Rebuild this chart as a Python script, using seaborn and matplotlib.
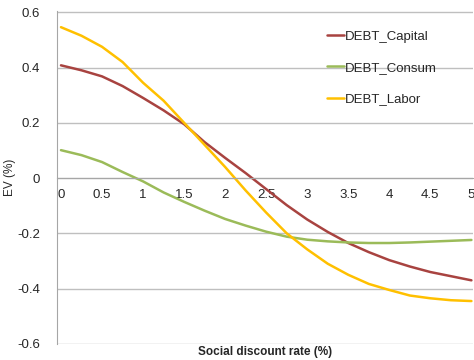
import numpy as np
import pandas as pd
import matplotlib
matplotlib.use('Agg')
import matplotlib.pyplot as plt
import seaborn as sns
from matplotlib.ticker import MultipleLocator

rate = [0, 0.25, 0.5, 0.75, 1.0, 1.25, 1.5, 1.75, 2.0, 2.25, 2.5,
        2.75, 3.0, 3.25, 3.5, 3.75, 4.0, 4.25, 4.5, 4.75, 5.0]

capital = [0.408, 0.390, 0.368, 0.333, 0.290, 0.245, 0.195, 0.130, 0.073, 0.018, -0.040,
           -0.098, -0.150, -0.195, -0.235, -0.268, -0.297, -0.320, -0.340, -0.355, -0.370]
consum = [0.101, 0.083, 0.058, 0.022, -0.012, -0.052, -0.086, -0.118, -0.148, -0.172, -0.194,
          -0.212, -0.223, -0.229, -0.233, -0.235, -0.235, -0.233, -0.230, -0.227, -0.224]
labor = [0.546, 0.515, 0.475, 0.420, 0.345, 0.280, 0.200, 0.120, 0.040, -0.045, -0.125,
         -0.200, -0.258, -0.310, -0.350, -0.383, -0.405, -0.425, -0.435, -0.442, -0.445]

series_names = ['DEBT_Capital', 'DEBT_Consum', 'DEBT_Labor']
colors = {'DEBT_Capital': '#A84340', 'DEBT_Consum': '#9BBB59', 'DEBT_Labor': '#FFC000'}

df = pd.DataFrame({
    'rate': rate * 3,
    'ev': capital + consum + labor,
    'series': np.repeat(series_names, len(rate)),
})

sns.set_style('white')
plt.rcParams['font.family'] = ['Liberation Sans', 'DejaVu Sans']

fig = plt.figure(figsize=(4.74, 3.6), dpi=100)
ax = fig.add_axes([0.120, 0.044, 0.878, 0.925])

sns.lineplot(data=df, x='rate', y='ev', hue='series', palette=colors,
             hue_order=series_names, linewidth=1.8, ax=ax, sort=False)

ax.set_xlim(-0.05, 5.02)
ax.set_ylim(-0.601, 0.604)
ax.xaxis.set_minor_locator(MultipleLocator(0.1))
ax.set_yticks([-0.6, -0.4, -0.2, 0, 0.2, 0.4, 0.6])
ax.set_yticklabels(['-0.6', '-0.4', '-0.2', '0', '0.2', '0.4', '0.6'])
ax.set_xticks([0, 0.5, 1, 1.5, 2, 2.5, 3, 3.5, 4, 4.5, 5])
ax.set_xticklabels(['0', '0.5', '1', '1.5', '2', '2.5', '3', '3.5', '4', '4.5', '5'])

ax.grid(axis='y', color='#BFBFBF', linewidth=1.0)
ax.set_axisbelow(True)

for s in ['top', 'right']:
    ax.spines[s].set_visible(False)
ax.spines['left'].set_color('#A6A6A6')
ax.spines['bottom'].set_color('#A6A6A6')
ax.spines['bottom'].set_position(('data', 0))

ax.tick_params(axis='y', length=0, pad=12, labelsize=9.5, labelcolor='#262626')
ax.tick_params(axis='x', which='both', direction='out', length=4, color='#A6A6A6',
               labelsize=9.5, labelcolor='#262626', pad=4)

ax.set_xlabel('')
ax.set_ylabel('EV (%)', fontsize=8.5, color='#262626')
ax.yaxis.set_label_coords(-0.098, 0.5)
fig.text(0.56, 0.005, 'Social discount rate (%)', ha='center', va='bottom',
         fontsize=8.5, fontweight='bold', color='#262626')

leg = ax.legend(loc='upper left', bbox_to_anchor=(0.62, 0.978), frameon=False,
                fontsize=9.5, handlelength=1.3, handletextpad=0.1, labelspacing=1.45)
for line in leg.get_lines():
    line.set_linewidth(1.8)

fig.savefig('out.png', dpi=100)
